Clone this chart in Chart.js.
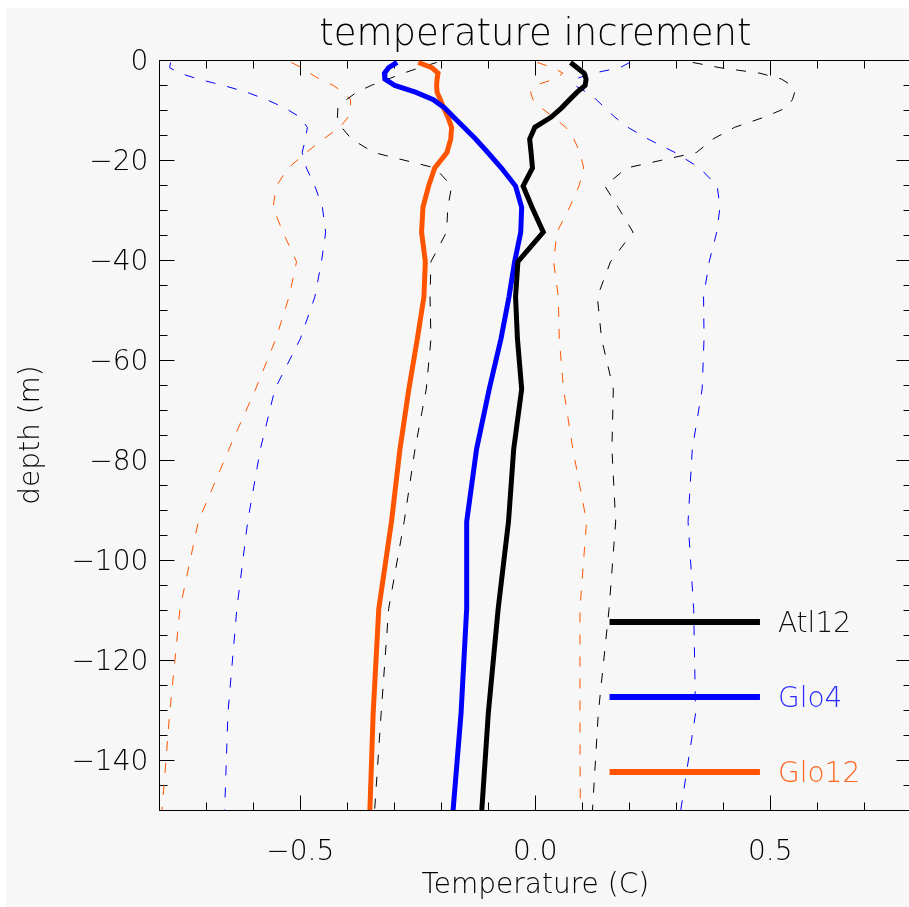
<!DOCTYPE html>
<html>
<head>
<meta charset="utf-8">
<title>temperature increment</title>
<script src="https://cdn.jsdelivr.net/npm/chart.js@4.4.1/dist/chart.umd.min.js"></script>
<style>
  html, body { margin: 0; padding: 0; background: #fff; overflow: hidden; }
  #wrap { position: absolute; left: 0; top: 0; width: 914px; height: 907px; }
</style>
</head>
<body>
<div id="wrap"><canvas id="chart" width="914" height="907"></canvas></div>
<script>
// ======================= DATA =========================
// model levels (m), negative = downward
const depths = [-0.494, -1.541, -2.646, -3.819, -5.078, -6.441, -7.930, -9.573, -11.405, -13.467,
  -15.810, -18.496, -21.599, -25.211, -29.445, -34.434, -40.344, -47.374, -55.764, -65.807,
  -77.854, -92.326, -109.73, -130.67, -155.85];

const atl12Mean = [0.075, 0.089, 0.104, 0.108, 0.106, 0.089, 0.073, 0.056, 0.034, -0.001,
  -0.012, -0.009, -0.006, -0.026, -0.007, 0.017, -0.037, -0.042, -0.038, -0.029,
  -0.046, -0.057, -0.079, -0.100, -0.118];
const atl12Low = [-0.210, -0.246, -0.281, -0.313, -0.349, -0.380, -0.402, -0.420, -0.421, -0.412,
  -0.391, -0.344, -0.213, -0.178, -0.186, -0.189, -0.222, -0.224, -0.222, -0.232,
  -0.256, -0.279, -0.312, -0.328, -0.346];
const atl12High = [0.335, 0.393, 0.478, 0.524, 0.545, 0.552, 0.547, 0.534, 0.488, 0.424,
  0.378, 0.343, 0.194, 0.148, 0.176, 0.208, 0.160, 0.132, 0.141, 0.166,
  0.163, 0.171, 0.157, 0.134, 0.118];

const glo4Mean = [-0.294, -0.312, -0.321, -0.320, -0.299, -0.255, -0.217, -0.193, -0.174, -0.152,
  -0.127, -0.101, -0.072, -0.042, -0.029, -0.031, -0.044, -0.056, -0.073, -0.098,
  -0.125, -0.146, -0.146, -0.158, -0.180];
const glo4Low = [-0.776, -0.778, -0.756, -0.717, -0.664, -0.614, -0.572, -0.533, -0.501, -0.485,
  -0.489, -0.496, -0.487, -0.469, -0.453, -0.446, -0.455, -0.469, -0.500, -0.554,
  -0.585, -0.612, -0.635, -0.654, -0.663];
const glo4High = [0.201, 0.180, 0.123, 0.084, 0.084, 0.109, 0.130, 0.148, 0.169, 0.197,
  0.240, 0.297, 0.350, 0.387, 0.393, 0.386, 0.370, 0.358, 0.359, 0.355,
  0.334, 0.325, 0.337, 0.341, 0.300];

const glo12Mean = [-0.249, -0.220, -0.207, -0.209, -0.210, -0.209, -0.202, -0.195, -0.186, -0.178,
  -0.180, -0.188, -0.214, -0.227, -0.239, -0.242, -0.234, -0.237, -0.251, -0.269,
  -0.288, -0.306, -0.333, -0.345, -0.354];
const glo12Low = [-0.519, -0.497, -0.480, -0.459, -0.430, -0.409, -0.393, -0.393, -0.398, -0.416,
  -0.451, -0.487, -0.526, -0.551, -0.558, -0.537, -0.508, -0.524, -0.552, -0.595,
  -0.652, -0.717, -0.756, -0.778, -0.799];
const glo12High = [0.004, 0.038, 0.059, 0.041, -0.001, -0.010, -0.005, 0.013, 0.038, 0.065,
  0.082, 0.095, 0.103, 0.093, 0.073, 0.046, 0.039, 0.049, 0.051, 0.060,
  0.080, 0.109, 0.095, 0.095, 0.096];

const seriesNames = ["Atl12", "Glo4", "Glo12"];
const xTickValues = [-0.5, 0.0, 0.5];
const yTickValues = [0, -20, -40, -60, -80, -100, -120, -140];

// ======================= STYLE =========================
const FONT = '"DejaVu Sans", sans-serif';
const FONT_WEIGHT = "200";
const COLORS = { Atl12: "#000000", Glo4: "#0000ff", Glo12: "#ff5500" };
const TEXT_COLORS = { Atl12: "#111111", Glo4: "#2a2aff", Glo12: "#ff6420" };
const X_MIN = -0.8, X_MAX = 0.8, Y_MIN = -150, Y_MAX = 0;

Chart.defaults.font.family = FONT;
Chart.defaults.font.weight = FONT_WEIGHT;
Chart.defaults.color = "#000";

function profile(values) {
  return values.map((v, i) => ({ x: v, y: depths[i] }));
}

function meanSet(name, values) {
  return { label: name, data: profile(values), borderColor: COLORS[name], borderWidth: 5,
    pointRadius: 0, tension: 0, fill: false, clip: 0 };
}
function spreadSet(name, values) {
  return { label: name + " spread", data: profile(values), borderColor: COLORS[name], borderWidth: 1,
    borderDash: [10, 12], pointRadius: 0, tension: 0, fill: false, clip: 0 };
}

function minus(s) { return s.replace("-", "\u2212"); }

// ================== PLUGINS ==================
const background = {
  id: "background",
  beforeDraw(chart) {
    const { ctx, width, height } = chart;
    ctx.save();
    ctx.fillStyle = "#ffffff";
    ctx.fillRect(0, 0, width, height);
    ctx.fillStyle = "#f7f7f7";
    ctx.fillRect(6, 8, width - 6, height - 8);
    ctx.restore();
  }
};

// IDL style box with inward ticks on all four sides
const idlAxes = {
  id: "idlAxes",
  beforeDatasetsDraw(chart) {
    const { ctx, chartArea: a, scales: { x, y } } = chart;
    const L = Math.round(a.left) + 0.5, R = Math.round(a.right) + 0.5;
    const T = Math.round(a.top) + 0.5, B = Math.round(a.bottom) + 0.5;
    ctx.save();
    ctx.strokeStyle = "#000";
    ctx.lineWidth = 1;
    ctx.strokeRect(L, T, R - L, B - T);
    ctx.beginPath();
    for (let i = -7; i <= 7; i++) {
      const px = Math.round(x.getPixelForValue(i / 10)) + 0.5;
      const len = i % 5 === 0 ? 15 : 8;
      ctx.moveTo(px, B); ctx.lineTo(px, B - len);
      ctx.moveTo(px, T); ctx.lineTo(px, T + len);
    }
    for (let i = 1; i < 30; i++) {
      const v = -5 * i;
      const py = Math.round(y.getPixelForValue(v)) + 0.5;
      const len = v % 20 === 0 ? 15 : 8;
      ctx.moveTo(L, py); ctx.lineTo(L + len, py);
      ctx.moveTo(R, py); ctx.lineTo(R - len, py);
    }
    ctx.stroke();
    ctx.restore();
  }
};

const titleText = {
  id: "titleText",
  afterDraw(chart) {
    const { ctx, chartArea: a } = chart;
    ctx.save();
    ctx.font = FONT_WEIGHT + " 37px " + FONT;
    ctx.fillStyle = "#000";
    ctx.textAlign = "center";
    ctx.textBaseline = "middle";
    ctx.fillText("temperature increment", (a.left + a.right) / 2, 35);
    ctx.restore();
  }
};

// legend drawn inside the plot, in data units
const LEGEND_X0 = 0.158, LEGEND_X1 = 0.478;
const LEGEND_Y = [-112.4, -127.4, -142.4];
const legendInside = {
  id: "legendInside",
  afterDatasetsDraw(chart) {
    const { ctx, scales: { x, y } } = chart;
    const x0 = x.getPixelForValue(LEGEND_X0), x1 = x.getPixelForValue(LEGEND_X1);
    ctx.save();
    ctx.font = FONT_WEIGHT + " 28px " + FONT;
    ctx.textAlign = "left";
    ctx.textBaseline = "middle";
    seriesNames.forEach((name, i) => {
      const py = y.getPixelForValue(LEGEND_Y[i]);
      ctx.strokeStyle = COLORS[name];
      ctx.lineWidth = 6;
      ctx.beginPath();
      ctx.moveTo(x0, py); ctx.lineTo(x1, py);
      ctx.stroke();
      ctx.fillStyle = TEXT_COLORS[name];
      ctx.fillText(name, x1 + 18, py + 3);
    });
    ctx.restore();
  }
};

// ================== CHART ==================
const datasets = [
  meanSet("Atl12", atl12Mean),
  meanSet("Glo4", glo4Mean),
  meanSet("Glo12", glo12Mean),
  spreadSet("Atl12", atl12Low), spreadSet("Atl12", atl12High),
  spreadSet("Glo4", glo4Low), spreadSet("Glo4", glo4High),
  spreadSet("Glo12", glo12Low), spreadSet("Glo12", glo12High)
];

new Chart(document.getElementById("chart"), {
  type: "line",
  data: { datasets },
  options: {
    responsive: false,
    animation: false,
    events: [],
    layout: { padding: { top: 60, right: 2.7, bottom: 0, left: 0 } },
    plugins: { legend: { display: false }, title: { display: false }, tooltip: { enabled: false } },
    scales: {
      x: {
        type: "linear", min: X_MIN, max: X_MAX,
        grid: { display: false, drawTicks: false }, border: { display: false },
        afterBuildTicks: s => { s.ticks = xTickValues.map(v => ({ value: v })); },
        afterFit: s => { s.height = 97; },
        ticks: { font: { size: 28 }, padding: 26, color: "#000",
          callback: v => minus(Number(v).toFixed(1)) },
        title: { display: true, text: "Temperature (C)", font: { size: 28 }, color: "#000",
          padding: { top: 0, bottom: 4 } }
      },
      y: {
        type: "linear", min: Y_MIN, max: Y_MAX,
        grid: { display: false, drawTicks: false }, border: { display: false },
        afterBuildTicks: s => { s.ticks = yTickValues.map(v => ({ value: v })); },
        afterFit: s => { s.width = 159.3; },
        ticks: { font: { size: 28 }, padding: 11, labelOffset: 3, color: "#000",
          callback: v => minus(String(v)) },
        title: { display: true, text: "depth (m)", font: { size: 28 }, color: "#000",
          padding: { top: 15, bottom: 0 } }
      }
    }
  },
  plugins: [background, idlAxes, titleText, legendInside]
});
</script>
</body>
</html>
